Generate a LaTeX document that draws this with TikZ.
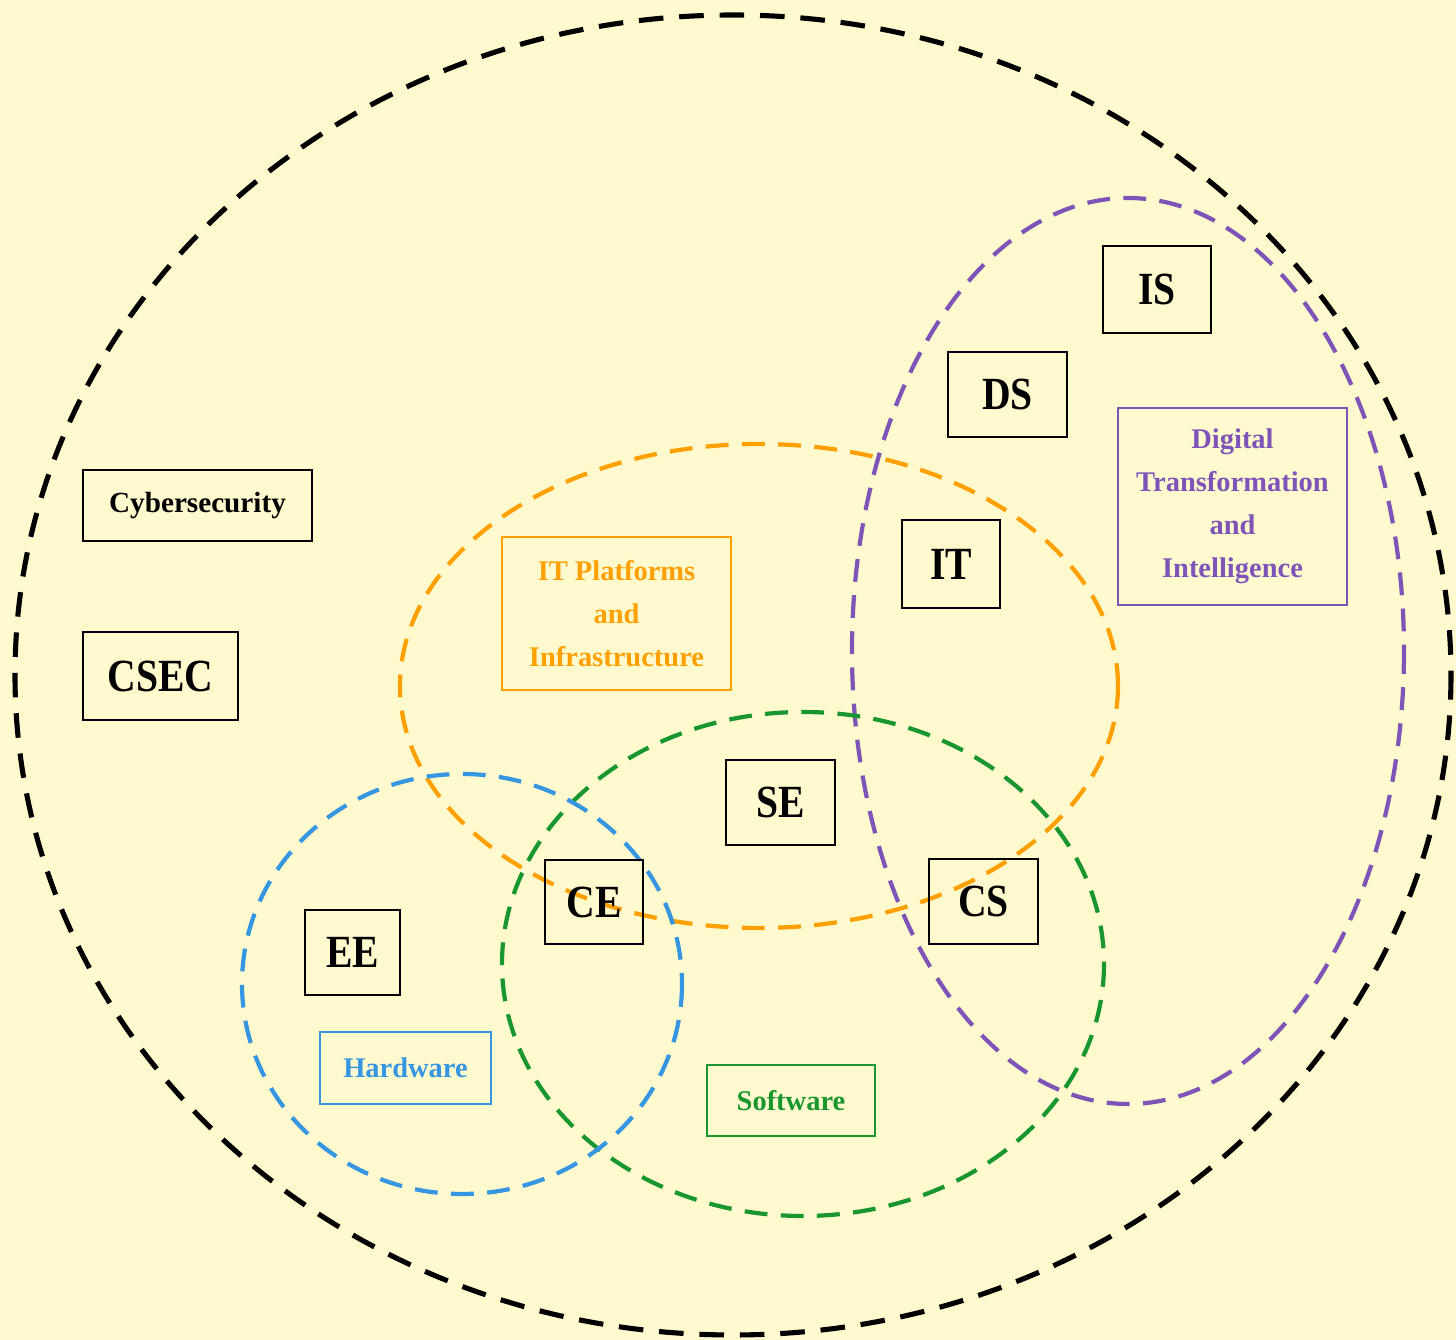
\documentclass[tikz,border=0pt]{standalone}
\usepackage{fontspec}
\setmainfont{Liberation Serif}
\newfontfamily\tagfont[FakeStretch=0.86]{Liberation Serif}
\usepackage{xcolor}
\definecolor{bgyellow}{RGB}{255,250,205}
\definecolor{ringorange}{RGB}{255,160,0}
\definecolor{ringgreen}{RGB}{25,150,50}
\definecolor{ringblue}{RGB}{55,150,225}
\definecolor{ringpurple}{RGB}{125,85,185}

\begin{document}
\begin{tikzpicture}[x=0.01cm, y=-0.01cm,
    ring/.style={line width=1.2pt, dash pattern=on 6.5pt off 3.8pt},
    tag/.style={draw=black, line width=0.6pt, inner sep=0pt,
        font=\tagfont\fontsize{13.1}{15}\selectfont\bfseries},
    area/.style={draw, line width=0.45pt, inner sep=0pt, align=center,
        font=\fontsize{8.1}{12.2}\selectfont\bfseries}]
    \useasboundingbox (0,0) rectangle (1456,1340);
    \fill[bgyellow] (0,0) rectangle (1456,1340);

    \draw[line width=1.45pt, dash pattern=on 7pt off 4.5pt] (733,675) ellipse [x radius=718, y radius=660];
    \draw[ring, ringpurple] (1128,651) ellipse [x radius=276, y radius=453];
    \draw[ring, ringorange] (759,686) ellipse [x radius=359, y radius=242];
    \draw[ring, ringgreen] (803,964) ellipse [x radius=301, y radius=252];
    \draw[ring, ringblue] (462,984) ellipse [x radius=220, y radius=210];

    \node[tag, minimum width=1.08cm, minimum height=0.87cm] (is) at (1157,289.5) {IS};
    \node[tag, minimum width=1.19cm, minimum height=0.85cm] (ds) at (1007.5,394.5) {DS};
    \node[tag, minimum width=0.98cm, minimum height=0.88cm] (it) at (951,564) {IT};
    \node[tag, minimum width=1.09cm, minimum height=0.85cm] (se) at (780.5,802.5) {SE};
    \node[tag, minimum width=0.98cm, minimum height=0.84cm] (ce) at (594,902) {CE};
    \node[tag, minimum width=1.09cm, minimum height=0.85cm] (cs) at (983.5,901.5) {CS};
    \node[tag, minimum width=0.95cm, minimum height=0.85cm] (ee) at (352.5,952.5) {EE};
    \node[tag, minimum width=1.55cm, minimum height=0.88cm] (csec) at (160.5,676) {CSEC};
    \node[draw=black, line width=0.6pt, inner sep=0pt, minimum width=2.29cm, minimum height=0.71cm,
        font=\fontsize{8.3}{10}\selectfont\bfseries] (cyber) at (197.5,505.5) {Cybersecurity};

    \node[area, ringpurple, minimum width=2.29cm, minimum height=1.97cm] (dti) at (1232.5,506.5)
        {Digital\\Transformation\\and\\Intelligence};
    \node[area, ringorange, minimum width=2.29cm, minimum height=1.53cm] (itpi) at (616.5,613.5)
        {IT Platforms\\and\\Infrastructure};
    \node[area, ringblue, minimum width=1.71cm, minimum height=0.72cm] (hw) at (405.5,1068) {Hardware};
    \node[area, ringgreen, minimum width=1.68cm, minimum height=0.71cm] (sw) at (791,1100.5) {Software};
\end{tikzpicture}
\end{document}
